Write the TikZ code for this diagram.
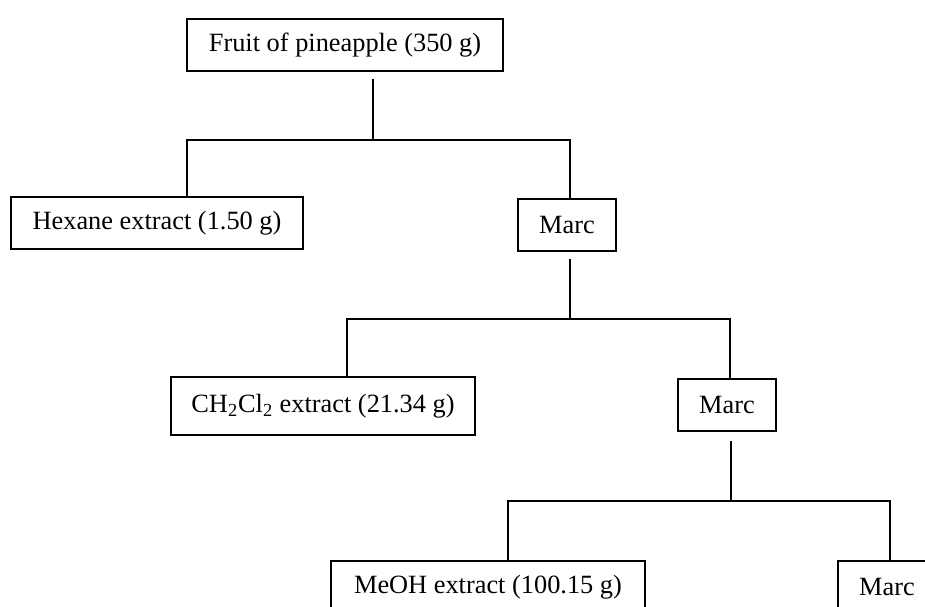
\documentclass[tikz,border=0pt]{standalone}
\usepackage{fontspec}
\setmainfont{Liberation Serif}
\usepackage{tikz}
\usetikzlibrary{positioning, calc}
\tikzset{
  fbox/.style={draw, line width=1.1pt, minimum width=#1, minimum height=1.04cm,
               inner sep=0pt, align=center, font=\fontsize{15}{18}\selectfont},
  link/.style={line width=1.1pt},
}

\begin{document}
\begin{tikzpicture}[x=0.02cm, y=-0.02cm]
  \useasboundingbox (0,0) rectangle (925,606);
  \clip (0,0) rectangle (925,606);

  % ─── Level 0: starting material ────────────────────────────────────
  \node[fbox=6.32cm] (fruit) at (345,45) {Fruit of pineapple (350 g)};

  % ─── Level 1: hexane ───────────────────────────────────────────────
  \node[fbox=5.84cm] (hex)   at (157,223) {Hexane extract (1.50 g)};
  \node[fbox=1.96cm] (marcA) at (567,225) {Marc};
  \coordinate (t0) at (373,79);
  \coordinate (h0) at (373,140);
  \coordinate (l0) at (187,140);
  \coordinate (r0) at (570,140);
  \draw[link] (t0) -- (h0);
  \draw[link] (l0 |- hex.north) -- (l0) -- (r0) -- (r0 |- marcA.north);

  % ─── Level 2: CH2Cl2 ───────────────────────────────────────────────
  \node[fbox=6.08cm, minimum height=1.16cm] (dcm) at (323,406)
    {CH\textsubscript{2}Cl\textsubscript{2} extract (21.34 g)};
  \node[fbox=1.96cm] (marcB) at (727,405) {Marc};
  \coordinate (t1) at (570,259);
  \coordinate (h1) at (570,319);
  \coordinate (l1) at (347,319);
  \coordinate (r1) at (730,319);
  \draw[link] (t1) -- (h1);
  \draw[link] (l1 |- dcm.north) -- (l1) -- (r1) -- (r1 |- marcB.north);

  % ─── Level 3: MeOH (boxes run off the page) ────────────────────────
  \node[fbox=6.28cm] (meoh)  at (488,587) {MeOH extract (100.15 g)};
  \node[fbox=1.96cm] (marcC) at (887,587) {Marc};
  \coordinate (t2) at (731,441);
  \coordinate (h2) at (731,501);
  \coordinate (l2) at (508,501);
  \coordinate (r2) at (890,501);
  \draw[link] (t2) -- (h2);
  \draw[link] (l2 |- meoh.north) -- (l2) -- (r2) -- (r2 |- marcC.north);

\end{tikzpicture}
\end{document}
